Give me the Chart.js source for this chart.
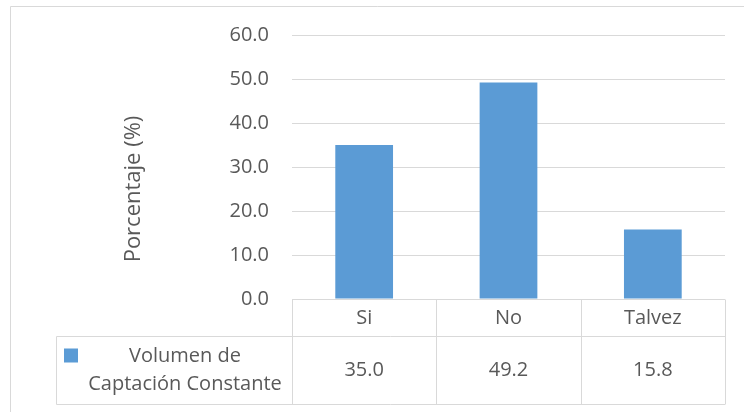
<!DOCTYPE html>
<html>
<head>
<meta charset="utf-8">
<script src="https://cdn.jsdelivr.net/npm/chart.js@4.4.0/dist/chart.umd.min.js"></script>
<style>
  html, body { margin: 0; padding: 0; background: #ffffff; }
  #wrap { width: 744px; height: 412px; position: relative; }
</style>
</head>
<body>
<div id="wrap"><canvas id="chart" width="744" height="412"></canvas></div>
<script>
// Survey answers and their share of respondents (%)
const categories = ['Si', 'No', 'Talvez'];
const seriesName = 'Volumen de Captación Constante';
const seriesValues = [35.0, 49.2, 15.8];
const yTicks = [0, 10, 20, 30, 40, 50, 60];
const yTitle = 'Porcentaje (%)';

const FONT = '"Open Sans", "Liberation Sans", sans-serif';
const TEXT = '#595959';
const LINE = '#d9d9d9';
const BAR = '#5B9BD5';

// Outer frame of the chart object and the vertical axis title
const framePlugin = {
  id: 'frame',
  beforeDraw(chart) {
    const ctx = chart.ctx;
    ctx.save();
    ctx.strokeStyle = LINE;
    ctx.lineWidth = 1;
    ctx.beginPath();
    ctx.moveTo(10.5, 412);
    ctx.lineTo(10.5, 6.5);
    ctx.lineTo(744, 6.5);
    ctx.stroke();

    ctx.translate(134, 189);
    ctx.rotate(-Math.PI / 2);
    ctx.fillStyle = TEXT;
    ctx.font = '22px ' + FONT;
    ctx.textAlign = 'center';
    ctx.textBaseline = 'middle';
    ctx.fillText(yTitle, 0, 0);
    ctx.restore();
  }
};

function wrapText(ctx, text, maxWidth) {
  const words = text.split(' ');
  const lines = [];
  let cur = '';
  words.forEach(w => {
    const test = cur ? cur + ' ' + w : w;
    if (ctx.measureText(test).width > maxWidth && cur) {
      lines.push(cur);
      cur = w;
    } else {
      cur = test;
    }
  });
  if (cur) lines.push(cur);
  return lines;
}

// Data table under the plot: category header row and a value row with legend key
const dataTablePlugin = {
  id: 'dataTable',
  afterDraw(chart) {
    const ctx = chart.ctx;
    const area = chart.chartArea;
    const xs = chart.scales.x;
    const n = categories.length;
    const colW = (area.right - area.left) / n;
    const top = Math.round(area.bottom) + 0.5;
    const mid = top + 37;
    const bottom = top + 105;
    const tableLeft = 56.5;

    ctx.save();
    ctx.strokeStyle = LINE;
    ctx.lineWidth = 1;
    ctx.beginPath();
    // horizontal rules
    ctx.moveTo(area.left, top); ctx.lineTo(area.right, top);
    ctx.moveTo(tableLeft, mid); ctx.lineTo(area.right, mid);
    ctx.moveTo(tableLeft, bottom); ctx.lineTo(area.right, bottom);
    // vertical rules
    ctx.moveTo(tableLeft, mid); ctx.lineTo(tableLeft, bottom);
    for (let i = 0; i <= n; i++) {
      const x = Math.round(area.left + i * colW) + 0.5;
      ctx.moveTo(x, top); ctx.lineTo(x, bottom);
    }
    ctx.stroke();

    ctx.fillStyle = TEXT;
    ctx.font = '20px ' + FONT;
    ctx.textAlign = 'center';
    ctx.textBaseline = 'middle';
    categories.forEach((c, i) => {
      const cx = xs.getPixelForValue(i);
      ctx.fillText(c, cx, (top + mid) / 2);
      ctx.fillText(seriesValues[i].toFixed(1), cx, (mid + bottom) / 2);
    });

    // legend key and series name
    const keySize = 14;
    const keyX = 64;
    const rowMidY = (mid + bottom) / 2;
    ctx.fillStyle = BAR;
    ctx.fillRect(keyX, rowMidY - 22, keySize, keySize);

    ctx.fillStyle = TEXT;
    const lines = wrapText(ctx, seriesName, 205);
    const lh = 28;
    const textCx = (keyX + keySize + area.left) / 2;
    lines.forEach((ln, k) => {
      const y = rowMidY + (k - (lines.length - 1) / 2) * lh;
      ctx.fillText(ln, textCx, y);
    });
    ctx.restore();
  }
};

new Chart(document.getElementById('chart'), {
  type: 'bar',
  data: {
    labels: categories,
    datasets: [{
      label: seriesName,
      data: seriesValues,
      backgroundColor: BAR,
      borderWidth: 0,
      barPercentage: 0.4,
      categoryPercentage: 1.0
    }]
  },
  options: {
    responsive: false,
    animation: false,
    devicePixelRatio: 1,
    layout: { padding: { top: 35, right: 19, bottom: 113, left: 0 } },
    plugins: {
      legend: { display: false },
      tooltip: { enabled: false }
    },
    scales: {
      x: {
        display: false
      },
      y: {
        min: yTicks[0],
        max: yTicks[yTicks.length - 1],
        afterFit(scale) { scale.width = 292; },
        afterBuildTicks(scale) { scale.ticks = yTicks.map(v => ({ value: v })); },
        border: { display: false },
        grid: { color: LINE, lineWidth: 1, drawTicks: false },
        ticks: {
          padding: 23,
          color: TEXT,
          font: { family: FONT, size: 20 },
          callback: v => Number(v).toFixed(1)
        }
      }
    }
  },
  plugins: [framePlugin, dataTablePlugin]
});
</script>
</body>
</html>
